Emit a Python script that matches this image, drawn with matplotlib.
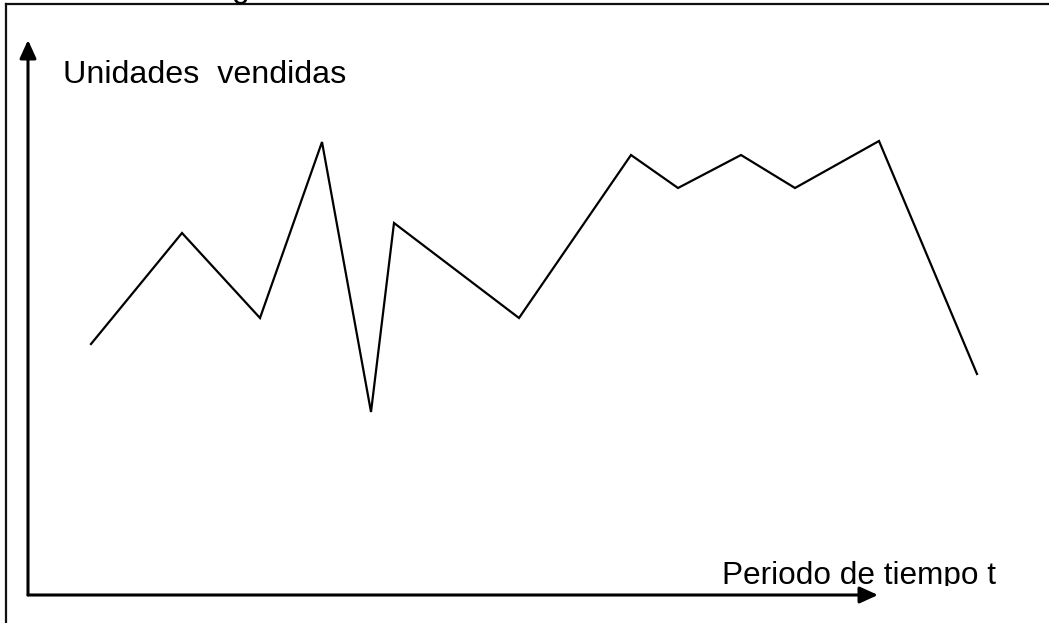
import matplotlib
matplotlib.use("Agg")
import matplotlib.pyplot as plt
from matplotlib.lines import Line2D
from matplotlib.transforms import Bbox

plt.rcParams['font.family'] = ['Liberation Sans', 'DejaVu Sans']

# periodo de tiempo t y unidades vendidas
periodo = [6.3, 15.4, 23.2, 29.4, 34.3, 36.6, 49.1, 60.3, 65.0, 71.3, 76.7, 85.1, 94.9]
unidades = [25.1, 36.2, 27.7, 45.3, 18.3, 37.2, 27.7, 44.0, 40.7, 44.0, 40.7, 45.4, 22.1]

y_label = "Unidades  vendidas"
x_label = "Periodo de tiempo t"

W, H, DPI = 1049, 623, 100
fig = plt.figure(figsize=(W / DPI, H / DPI), dpi=DPI)
fig.patch.set_facecolor("white")
ax = fig.add_axes([0, 0, 1, 1])
ax.set_xlim(-2.8, 102.1)
ax.set_ylim(-2.8, 59.5)
ax.axis("off")

# frame around the drawing (only top and left visible)
fig.add_artist(Line2D([6 / W, 1], [1 - 4 / H, 1 - 4 / H], color="#111111", lw=1.6))
fig.add_artist(Line2D([6 / W, 6 / W], [0, 1 - 4 / H], color="#111111", lw=1.6))

# clipped descender of text above
fig.text(232 / W, 1 + 3.5 / H, "g", fontsize=23, ha="left", va="baseline")

# axes with arrows
arrow = dict(arrowstyle="-|>,head_length=0.55,head_width=0.25", lw=2.2,
             color="black", mutation_scale=20, shrinkA=0, shrinkB=0)
ax.annotate("", xy=(0, 55.5), xytext=(0, 0), arrowprops=arrow)
ax.annotate("", xy=(85.0, 0), xytext=(0, 0), arrowprops=arrow)

# series
ax.plot(periodo, unidades, color="black", lw=1.6, solid_joinstyle="miter")

ax.text(3.5, 51.2, y_label, fontsize=23.2, ha="left", va="baseline")
t = ax.text(69.4, 1.1, x_label, fontsize=22.7, ha="left", va="baseline")
t.set_clip_on(True)
t.set_clip_box(Bbox.from_extents(0, 623 - 586, W, H))

fig.savefig("out.png", dpi=DPI, facecolor="white")
